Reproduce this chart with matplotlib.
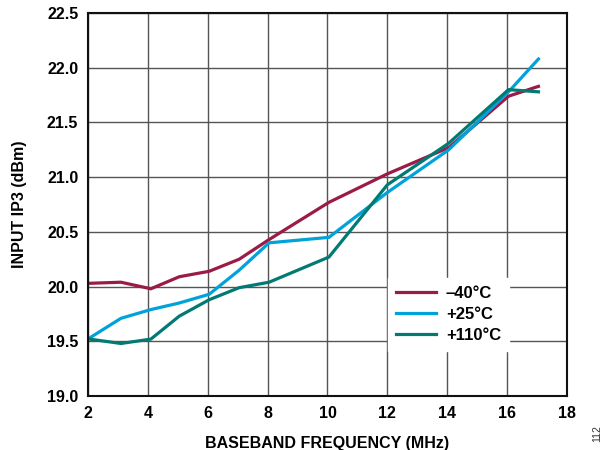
import numpy as np
import matplotlib
matplotlib.use('Agg')
import matplotlib.pyplot as plt

plt.rcParams['font.family'] = ['Liberation Sans', 'DejaVu Sans']

# baseband frequency (MHz)
freq = [2.05, 3.1, 4.1, 5.05, 6.05, 7.05, 8.05, 10.05, 12.0, 14.05, 16.05, 17.05]
# input IP3 (dBm) per temperature
ip3_m40 = [20.03, 20.04, 19.98, 20.09, 20.14, 20.25, 20.43, 20.77, 21.03, 21.27, 21.74, 21.83]
ip3_p25 = [19.53, 19.71, 19.79, 19.85, 19.93, 20.15, 20.40, 20.45, 20.86, 21.25, 21.78, 22.08]
ip3_p110 = [19.52, 19.48, 19.52, 19.73, 19.88, 19.99, 20.04, 20.27, 20.93, 21.31, 21.80, 21.78]
labels = ['\u201340\u00b0C', '+25\u00b0C', '+110\u00b0C']
colors = ['#9b1b48', '#00a3d9', '#007a73']

fig = plt.figure(figsize=(6.05, 4.5), dpi=100)
ax = fig.add_axes([0.1455, 0.12, 0.7915, 0.851])

for y, lab, c in zip([ip3_m40, ip3_p25, ip3_p110], labels, colors):
    ax.plot(freq, y, color=c, lw=2.3, label=lab, solid_joinstyle='miter')

ax.set_xlim(2, 18)
ax.set_ylim(19.0, 22.5)
ax.set_xticks(np.arange(2, 19, 2))
ax.set_yticks(np.arange(19.0, 22.51, 0.5))
ax.set_yticklabels(['%.1f' % v for v in np.arange(19.0, 22.51, 0.5)])
ax.grid(True, color='#555555', lw=1.0)
ax.set_axisbelow(True)
ax.tick_params(length=0, labelsize=11.5, pad=7)
for t in ax.get_xticklabels() + ax.get_yticklabels():
    t.set_fontweight('bold')
for s in ax.spines.values():
    s.set_linewidth(1.5)
    s.set_color('#111111')

ax.set_xlabel('BASEBAND FREQUENCY (MHz)', fontsize=11.5, fontweight='bold', labelpad=11)
ax.set_ylabel('INPUT IP3 (dBm)', fontsize=11.5, fontweight='bold', labelpad=14)

leg = ax.legend(loc='upper left', bbox_to_anchor=(0.608, 0.33), frameon=True,
                fontsize=12, handlelength=2.4, handletextpad=0.6,
                labelspacing=0.35, borderpad=0.5, fancybox=False)
leg.get_frame().set_edgecolor('white')
leg.get_frame().set_facecolor('white')
leg.get_frame().set_alpha(1.0)
for t in leg.get_texts():
    t.set_fontweight('bold')

fig.text(0.987, 0.018, '112', rotation=90, fontsize=7.5, color='#333333',
         ha='center', va='bottom')

fig.savefig('out.png', dpi=100)
